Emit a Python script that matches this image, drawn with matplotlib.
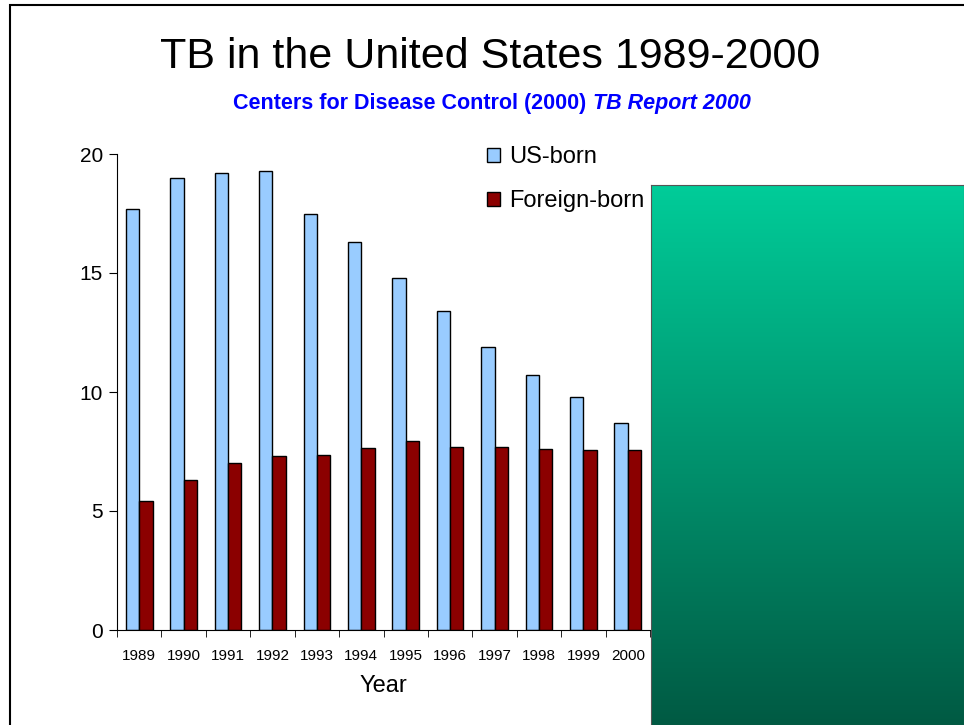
import numpy as np
import matplotlib.pyplot as plt
from matplotlib.colors import LinearSegmentedColormap
from matplotlib.patches import Rectangle

plt.rcParams['font.family'] = ['Liberation Sans', 'DejaVu Sans']

# data
years = ['1989', '1990', '1991', '1992', '1993', '1994',
         '1995', '1996', '1997', '1998', '1999', '2000']
us_born = [17.7, 19.0, 19.2, 19.3, 17.5, 16.3, 14.8, 13.4, 11.9, 10.7, 9.8, 8.7]
foreign_born = [5.4, 6.3, 7.0, 7.3, 7.35, 7.65, 7.95, 7.7, 7.7, 7.6, 7.55, 7.55]

fig = plt.figure(figsize=(9.64, 7.25), dpi=100)
W, H = 964, 725

# slide border
fig.patches.append(Rectangle((10 / W, -0.1), 1.2, 1 - 5 / H + 0.1,
                             transform=fig.transFigure, fill=False,
                             edgecolor='black', linewidth=1.5))

fig.text(490 / W, 1 - 57 / H, 'TB in the United States 1989-2000',
         ha='center', va='center', fontsize=31)

# subtitle: plain bold part followed by bold italic part, centred together
sub_kw = dict(fontsize=15.5, fontweight='bold', color='#0000ff', va='baseline')
t1 = fig.text(0, 1 - 109 / H, 'Centers for Disease Control (2000) ', ha='left', **sub_kw)
t2 = fig.text(0, 1 - 109 / H, 'TB Report 2000', ha='left', fontstyle='italic', **sub_kw)
r = fig.canvas.get_renderer()
w1 = t1.get_window_extent(r).width
w2 = t2.get_window_extent(r).width
x0 = 492 - (w1 + w2) / 2
t1.set_x(x0 / W)
t2.set_x((x0 + w1) / W)

ax = fig.add_axes([117 / W, (H - 630) / H, 533 / W, 476 / H])
x = np.arange(len(years))
w = 0.3
ax.bar(x - w / 2, us_born, w, color='#99ccff', edgecolor='black', linewidth=1,
       label='US-born')
ax.bar(x + w / 2, foreign_born, w, color='#8b0000', edgecolor='black', linewidth=1,
       label='Foreign-born')

ax.set_xlim(-0.5, len(years) - 0.5)
ax.set_ylim(0, 20)
ax.set_yticks([0, 5, 10, 15, 20])
ax.set_xticks(x)
ax.set_xticklabels(years, fontsize=11)
ax.set_xticks(np.arange(len(years) + 1) - 0.5, minor=True)
ax.tick_params(axis='x', which='major', length=0, pad=14)
ax.tick_params(axis='x', which='minor', length=5, direction='out')
ax.tick_params(axis='y', labelsize=15, length=6, direction='out', pad=4)
ax.spines['top'].set_visible(False)
ax.spines['right'].set_visible(False)
ax.set_xlabel('Year', fontsize=17, labelpad=8)

fig.legend(loc='upper left', bbox_to_anchor=(487 / W, 1 - 146 / H),
           frameon=False, fontsize=17, handlelength=0.55, handleheight=0.55,
           handletextpad=0.38, labelspacing=0.95, borderaxespad=0,
           borderpad=0)

# green gradient box over the right side
gax = fig.add_axes([651 / W, 0, (W - 651) / W, (H - 185) / H])
cmap = LinearSegmentedColormap.from_list('g', ['#005a43', '#00cc99'])
grad = np.linspace(0, 1, 256).reshape(-1, 1)
gax.imshow(grad, aspect='auto', cmap=cmap, origin='lower')
gax.set_xticks([])
gax.set_yticks([])
for s in gax.spines.values():
    s.set_edgecolor('#555555')

fig.savefig('out.png', dpi=100)
